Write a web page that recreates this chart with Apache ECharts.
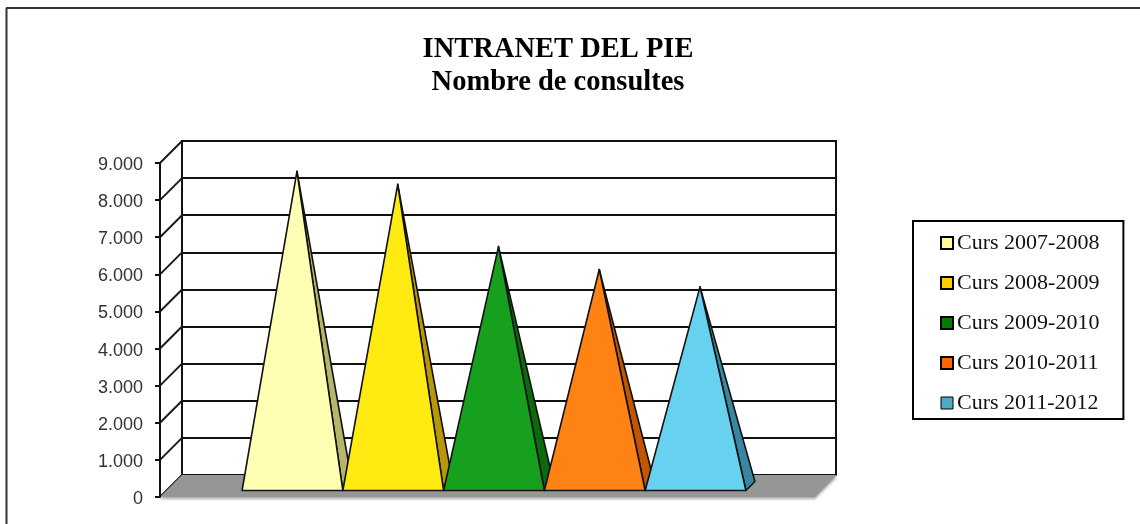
<!DOCTYPE html>
<html>
<head>
<meta charset="utf-8">
<title>INTRANET DEL PIE</title>
<style>
  html, body { margin: 0; padding: 0; background: #fff; }
  #chart { width: 1140px; height: 524px; }
</style>
</head>
<body>
<div id="chart"></div>
<script src="https://cdn.jsdelivr.net/npm/echarts@6/dist/echarts.min.js"></script>
<script>
var categories = ['Consultes']
var seriesNames = ['Curs 2007-2008', 'Curs 2008-2009', 'Curs 2009-2010', 'Curs 2010-2011', 'Curs 2011-2012']
var seriesValues = [8480, 8130, 6450, 5835, 5365]
var yTicks = [0, 1000, 2000, 3000, 4000, 5000, 6000, 7000, 8000, 9000]

var frontColors = ['#FFFFB3', '#FFEB12', '#17A01E', '#FF8214', '#66D2F0']
var sideColors = ['#B5B56B', '#B8980A', '#0B6A0D', '#C35400', '#3A86A0']
var legendColors = ['#FFFF99', '#FFCC00', '#007F00', '#FF6600', '#4BACC6']

// fake 3d: how far the back wall sits from the front plane
var DEPTH = 22
var BASE_FRONT = 6.5
var BASE_BACK = 15.5
var BASE_MID = 11
var GAP_BARS = 1.5

var myChart = echarts.init(document.getElementById('chart'))

function thousands(val) {
  return String(val).replace(/\B(?=(\d{3})+$)/g, '.')
}

function pyramidSeries(name, index) {
  return {
    name: name,
    type: 'custom',
    xAxisIndex: 0,
    yAxisIndex: 0,
    z: 5,
    clip: false,
    itemStyle: { color: legendColors[index] },
    encode: { x: 0, y: 1 },
    data: [[categories[0], seriesValues[index]]],
    renderItem: function (params, api) {
      var base = api.coord([api.value(0), 0])
      var top = api.coord([api.value(0), api.value(1)])
      var w = api.size([1, 0])[0] / (seriesNames.length + GAP_BARS)
      var cx = base[0] + (index - (seriesNames.length - 1) / 2) * w
      var fl = [cx - w / 2 + BASE_FRONT, base[1] - BASE_FRONT]
      var fr = [cx + w / 2 + BASE_FRONT, base[1] - BASE_FRONT]
      var br = [cx + w / 2 + BASE_BACK, base[1] - BASE_BACK]
      var apex = [cx + BASE_MID, top[1] - BASE_MID]
      return {
        type: 'group',
        children: [
          {
            type: 'polygon',
            shape: { points: [fr, br, apex] },
            style: { fill: sideColors[index], stroke: '#111', lineWidth: 1.6, lineJoin: 'round' }
          },
          {
            type: 'polygon',
            shape: { points: [fl, fr, apex] },
            style: { fill: frontColors[index], stroke: '#111', lineWidth: 1.6, lineJoin: 'round' }
          }
        ]
      }
    }
  }
}

var wallSeries = {
  type: 'custom',
  xAxisIndex: 0,
  yAxisIndex: 0,
  z: 2,
  clip: false,
  silent: true,
  encode: { y: 0 },
  data: yTicks.map(function (t) { return [t] }),
  renderItem: function (params, api) {
    var p = api.coord([categories[0], api.value(0)])
    var x0 = params.coordSys.x
    return {
      type: 'line',
      shape: { x1: x0, y1: p[1], x2: x0 + DEPTH, y2: p[1] - DEPTH },
      style: { stroke: '#1a1a1a', lineWidth: 2 }
    }
  }
}

var floorSeries = {
  type: 'custom',
  xAxisIndex: 0,
  yAxisIndex: 0,
  z: 3,
  clip: false,
  silent: true,
  encode: { y: 0 },
  data: [[0]],
  renderItem: function (params, api) {
    var y0 = api.coord([categories[0], api.value(0)])[1]
    var x0 = params.coordSys.x
    var x1 = x0 + params.coordSys.width
    return {
      type: 'polygon',
      shape: { points: [[x0, y0], [x0 + DEPTH, y0 - DEPTH], [x1 + DEPTH, y0 - DEPTH], [x1, y0]] },
      style: { fill: '#969696', shadowBlur: 3, shadowColor: 'rgba(0,0,0,0.35)', shadowOffsetY: 2 }
    }
  }
}

var option = {
  backgroundColor: '#fff',
  animation: false,
  title: {
    text: 'INTRANET DEL PIE\nNombre de consultes',
    left: 553,
    top: 28,
    textAlign: 'center',
    textStyle: {
      fontFamily: 'Liberation Serif',
      fontWeight: 'bold',
      fontSize: 28.5,
      lineHeight: 33,
      color: '#000'
    }
  },
  legend: {
    orient: 'vertical',
    left: 913,
    top: 221,
    padding: [11, 24, 5, 27],
    itemWidth: 12,
    itemHeight: 12,
    itemGap: 18,
    borderColor: '#000',
    borderWidth: 2,
    icon: 'rect',
    selectedMode: false,
    textStyle: {
      fontFamily: 'Liberation Serif',
      fontSize: 22,
      padding: [0, 0, 0, -1],
      color: '#111'
    },
    data: seriesNames.map(function (name, i) {
      return {
        name: name,
        itemStyle: { color: legendColors[i], borderColor: '#000', borderWidth: i === 4 ? 1 : 2 }
      }
    })
  },
  grid: [
    { left: 160, top: 163, width: 655, height: 334 },
    { left: 182, top: 141, width: 654, height: 334, show: true, borderColor: '#111', borderWidth: 2, backgroundColor: '#fff' }
  ],
  xAxis: [
    { type: 'category', gridIndex: 0, data: categories, axisLine: { show: false }, axisTick: { show: false }, axisLabel: { show: false } },
    { type: 'category', gridIndex: 1, data: categories, axisLine: { show: false }, axisTick: { show: false }, axisLabel: { show: false } }
  ],
  yAxis: [
    {
      type: 'value',
      gridIndex: 0,
      min: yTicks[0],
      max: yTicks[yTicks.length - 1],
      interval: 1000,
      z: 4,
      axisLine: { show: true, lineStyle: { color: '#111', width: 2 } },
      axisTick: { show: true, length: 5, lineStyle: { color: '#111', width: 2 } },
      axisLabel: {
        fontFamily: 'Liberation Sans',
        fontSize: 18,
        color: '#333',
        margin: 17,
        verticalAlign: 'top',
        padding: [-7, 0, 0, 0],
        formatter: thousands
      },
      splitLine: { show: false }
    },
    {
      type: 'value',
      gridIndex: 1,
      min: yTicks[0],
      max: yTicks[yTicks.length - 1],
      interval: 1000,
      z: 1,
      axisLine: { show: false },
      axisTick: { show: false },
      axisLabel: { show: false },
      splitLine: { show: true, lineStyle: { color: '#111', width: 2 } }
    }
  ],
  graphic: [
    { type: 'line', shape: { x1: 6, y1: 8, x2: 1140, y2: 8 }, style: { stroke: '#333', lineWidth: 2 }, z: 0 },
    { type: 'line', shape: { x1: 6.5, y1: 8, x2: 6.5, y2: 524 }, style: { stroke: '#333', lineWidth: 2 }, z: 0 }
  ],
  series: [wallSeries, floorSeries].concat(seriesNames.map(pyramidSeries))
}

myChart.setOption(option)
window.addEventListener('resize', function () {
  myChart.resize()
})
</script>
</body>
</html>
